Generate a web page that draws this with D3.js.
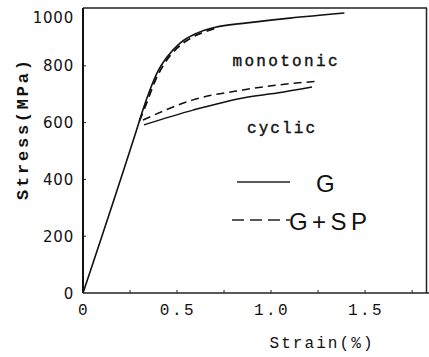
<!DOCTYPE html>
<html>
<head>
<meta charset="utf-8">
<style> body { margin: 0; background: #fff; } </style>
<script src="https://cdn.jsdelivr.net/npm/d3@7"></script>
</head>
<body>
<div id="chart"></div>
<script>

// strain (%) , stress (MPa)
var monoG = [[0,0],[0.30,606],[0.32,648],[0.356,715],[0.394,775],[0.447,831],[0.516,880],[0.606,915],[0.713,937],[0.872,951],[1.10,968],[1.39,986]];
var monoGSP = [[0.30,606],[0.34,672],[0.38,742],[0.43,805],[0.50,862],[0.58,900],[0.66,923],[0.72,935]];
var cycG = [[0.324,592],[0.585,644],[0.851,687],[1.032,704],[1.218,725]];
var cycGSP = [[0.319,609],[0.585,680],[0.851,715],[1.032,732],[1.255,746]];

var xTicks = [0, 0.5, 1.0, 1.5];
var xTickLabels = ["0", "0.5", "1.0", "1.5"];
var xMinor = [0.25, 0.5, 0.75, 1.0, 1.25, 1.5, 1.75];
var yTicks = [0, 200, 400, 600, 800, 1000];

var W = 429, H = 357;

var svg = d3.select("#chart").append("svg")
    .attr("width", W)
    .attr("height", H);

var x = d3.scaleLinear().domain([0, 1.824]).range([83, 426]);
var y = d3.scaleLinear().domain([0, 1000]).range([293, 9]);

var yTop = 8;

// frame
svg.append("line").attr("x1", x(0)).attr("x2", x(0)).attr("y1", yTop).attr("y2", y(0))
    .attr("stroke", "#111").attr("stroke-width", 2);
svg.append("line").attr("x1", x(0)).attr("x2", 429).attr("y1", y(0)).attr("y2", y(0))
    .attr("stroke", "#222").attr("stroke-width", 1.5);
svg.append("line").attr("x1", x(0)).attr("x2", 427).attr("y1", yTop).attr("y2", yTop)
    .attr("stroke", "#222").attr("stroke-width", 1.5);
svg.append("line").attr("x1", 426.5).attr("x2", 426.5).attr("y1", yTop).attr("y2", y(0))
    .attr("stroke", "#222").attr("stroke-width", 1.5);

// inward ticks
svg.append("g").selectAll("line").data(xMinor).join("line")
    .attr("x1", d => x(d)).attr("x2", d => x(d))
    .attr("y1", y(0)).attr("y2", y(0) - 3)
    .attr("stroke", "#222").attr("stroke-width", 1);
svg.append("g").selectAll("line").data(yTicks.slice(1, 5)).join("line")
    .attr("x1", x(0)).attr("x2", x(0) + 3)
    .attr("y1", d => y(d)).attr("y2", d => y(d))
    .attr("stroke", "#222").attr("stroke-width", 1);

// tick labels
svg.append("g").selectAll("text").data(yTicks).join("text")
    .attr("x", 74).attr("y", d => Math.max(y(d), 17) + 5.5)
    .attr("text-anchor", "end")
    .attr("font-family", "DejaVu Sans")
    .attr("font-size", 15)
    .attr("letter-spacing", 0.8)
    .attr("fill", "#111")
    .text(d => d);

svg.append("g").selectAll("text").data(xTicks).join("text")
    .attr("x", (d, i) => x(d) + 1).attr("y", 315)
    .attr("text-anchor", "middle")
    .attr("font-family", "Liberation Mono")
    .attr("font-size", 16)
    .attr("letter-spacing", 2.5)
    .attr("fill", "#111")
    .text((d, i) => xTickLabels[i]);

// axis titles
svg.append("text")
    .attr("transform", "translate(28,130) rotate(-90)")
    .attr("text-anchor", "middle")
    .attr("font-family", "Liberation Mono")
    .attr("font-weight", "bold")
    .attr("font-size", 17)
    .attr("textLength", 140)
    .attr("fill", "#111")
    .text("Stress(MPa)");

svg.append("text")
    .attr("x", 321).attr("y", 348)
    .attr("text-anchor", "middle")
    .attr("font-family", "Liberation Mono")
    .attr("font-size", 16)
    .attr("textLength", 103)
    .attr("fill", "#111")
    .text("Strain(%)");

// curves
var line = d3.line()
    .curve(d3.curveMonotoneX)
    .x(d => x(d[0]))
    .y(d => y(d[1]));

function addCurve(data, dashed, w) {
    svg.append("path")
        .datum(data)
        .attr("fill", "none")
        .attr("stroke", "#111")
        .attr("stroke-width", w)
        .attr("stroke-dasharray", dashed ? "8,5" : null)
        .attr("d", line);
}

addCurve(monoG, false, 1.6);
addCurve(monoGSP, true, 1.8);
addCurve(cycG, false, 1.5);
addCurve(cycGSP, true, 1.5);

// annotations
svg.append("text")
    .attr("x", 285).attr("y", 66)
    .attr("text-anchor", "middle")
    .attr("font-family", "Liberation Mono")
    .attr("font-size", 16)
    .attr("stroke", "#111").attr("stroke-width", 0.4)
    .attr("textLength", 105)
    .attr("fill", "#111")
    .text("monotonic");

svg.append("text")
    .attr("x", 281).attr("y", 133)
    .attr("text-anchor", "middle")
    .attr("font-family", "Liberation Mono")
    .attr("font-size", 16)
    .attr("stroke", "#111").attr("stroke-width", 0.4)
    .attr("textLength", 68)
    .attr("fill", "#111")
    .text("cyclic");

// legend
svg.append("line").attr("x1", 237).attr("x2", 290).attr("y1", 182).attr("y2", 182)
    .attr("stroke", "#222").attr("stroke-width", 1.3);
svg.append("text")
    .attr("x", 316).attr("y", 192)
    .attr("font-family", "Liberation Sans")
    .attr("font-size", 24)
    .attr("fill", "#111")
    .text("G");

svg.append("line").attr("x1", 232).attr("x2", 290).attr("y1", 220).attr("y2", 220)
    .attr("stroke", "#222").attr("stroke-width", 1.3)
    .attr("stroke-dasharray", "12,6");
svg.append("text")
    .attr("x", 289).attr("y", 230)
    .attr("font-family", "Liberation Sans")
    .attr("font-size", 24)
    .attr("textLength", 78)
    .attr("fill", "#111")
    .text("G+SP");

</script>
</body>
</html>
